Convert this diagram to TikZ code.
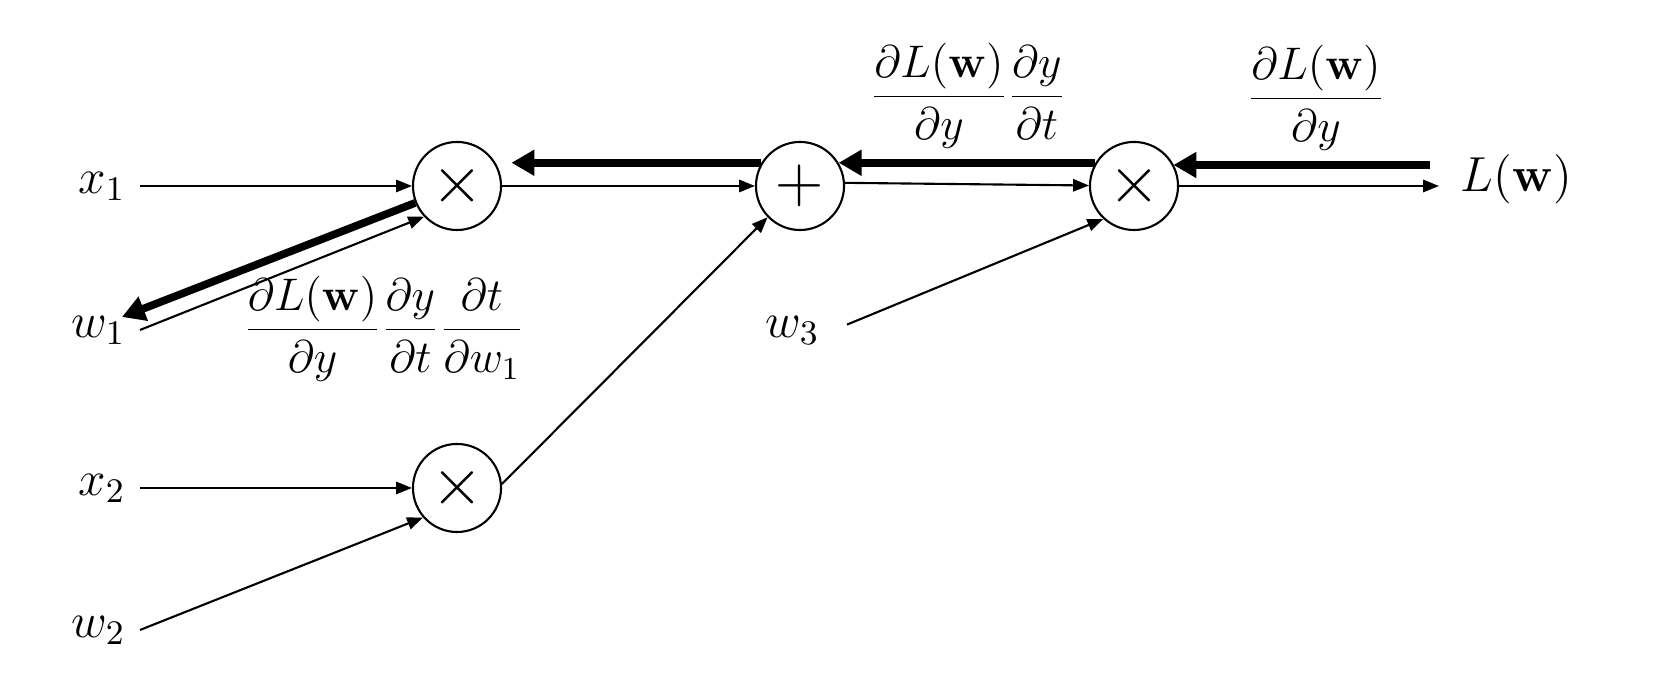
\documentclass[tikz,border=0pt]{standalone}
\usepackage{fix-cm}
\usetikzlibrary{arrows.meta}

\tikzset{
  op/.style={circle, draw, line width=0.6pt, minimum size=0.88cm, inner sep=0pt, font=\fontsize{19}{22}\selectfont},
  var/.style={inner sep=4pt, font=\fontsize{14}{17}\selectfont},
  grad/.style={anchor=base, inner sep=0pt, font=\fontsize{13}{16}\selectfont},
  fwd/.style={-{Triangle[length=4.5pt, width=3.5pt]}, line width=0.6pt},
  bwd/.style={-{Triangle[length=6.5pt, width=7pt]}, line width=2.2pt},
}

\begin{document}
\begin{tikzpicture}[x=0.01cm, y=0.01cm]
\useasboundingbox (0,0) rectangle (1663,698);

%--- Operation nodes
\node[op] (mulA) at (457,512)  {$\times$};
\node[op] (mulB) at (457,210)  {$\times$};
\node[op] (add)  at (800,512)  {$+$};
\node[op] (mulC) at (1134,512) {$\times$};

%--- Inputs, weights and loss
\node[var, anchor=mid east] (x1) at (140,512) {$x_1$};
\node[var, anchor=mid east] (w1) at (140,368) {$w_1$};
\node[var, anchor=mid east] (x2) at (140,210) {$x_2$};
\node[var, anchor=mid east] (w2) at (140,68)  {$w_2$};
\node[var, anchor=mid east] (w3) at (834,368) {$w_3$};
\node[var, anchor=mid west] (L)  at (1446,514) {$L(\mathbf{w})$};

%--- Gradient labels
\node[grad] (gradW1) at (384,357)  {$\displaystyle\frac{\partial L(\mathbf{w})}{\partial y}\frac{\partial y}{\partial t}\frac{\partial t}{\partial w_1}$};
\node[grad] (gradT)  at (968,590)  {$\displaystyle\frac{\partial L(\mathbf{w})}{\partial y}\frac{\partial y}{\partial t}$};
\node[grad] (gradY)  at (1316,588) {$\displaystyle\frac{\partial L(\mathbf{w})}{\partial y}$};

%--- Forward pass (thin)
\draw[fwd] (x1.mid east) -- (mulA);
\draw[fwd] (w1.mid east) -- (mulA.223);
\draw[fwd] (x2.mid east) -- (mulB);
\draw[fwd] (w2.mid east) -- (mulB.221);
\draw[fwd] (mulA) -- (add);
\draw[fwd] (mulB.5) -- (add.224);
\draw[fwd] (add.4) -- (mulC);
\draw[fwd, shorten <=4pt] (w3.mid east) -- (mulC.227);
\draw[fwd, shorten >=2pt] (mulC) -- (mulC -| L.west);

%--- Backward pass (thick)
\coordinate (gL)  at (1430,533);
\coordinate (gW1) at (122,381);
\draw[bwd] (gL) -- (gL -| mulC.29);
\draw[bwd] (mulC.149) -- (add.31);
\draw[bwd, shorten >=4.5pt] (add.149) -- (mulA.31);
\draw[bwd] (mulA.202) -- (gW1);

\end{tikzpicture}
\end{document}
